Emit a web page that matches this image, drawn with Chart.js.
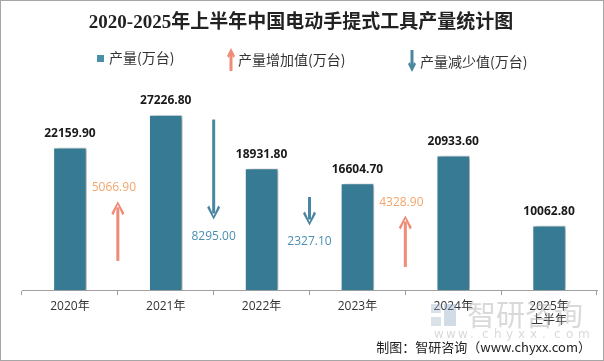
<!DOCTYPE html>
<html><head><meta charset="utf-8">
<script src="https://cdn.jsdelivr.net/npm/chart.js@4/dist/chart.umd.min.js"></script>
<style>
html,body{margin:0;padding:0;background:#fff;}
#wrap{position:relative;width:604px;height:361px;box-sizing:border-box;border:1px solid #a6a6a6;}
canvas{display:block;}
</style></head>
<body><div id="wrap"><canvas id="c" width="602" height="359"></canvas></div>
<script>
const categories = [["2020年"],["2021年"],["2022年"],["2023年"],["2024年"],["2025年","上半年"]];
const production = [22159.90, 27226.80, 18931.80, 16604.70, 20933.60, 10062.80];
// change annotations between consecutive years
const changeFromIndex = [0, 1, 2, 3];
const changeValues = [5066.90, 8295.00, 2327.10, 4328.90];
const changeDirection = ["up", "down", "down", "up"];
const arrowStartValues = [4550, 26500, 14470, 3610];
const arrowEndValues = [13800, 10990, 10050, 11610];
const labelValues = [15960, 8360, 7530, 13600];
const titleText = "2020-2025年上半年中国电动手提式工具产量统计图";
const legendLabels = ["产量(万台)", "产量增加值(万台)", "产量减少值(万台)"];

const BAR = "#367a93", UP = "#ef8b77", DOWN = "#4a86a0", UPTXT = "#f4a56a", DOWNTXT = "#4a8fb0";

function drawArrow(ctx, x, y1, y2, color, lw, hw, hl) {
  const dir = y2 < y1 ? -1 : 1;
  ctx.save();
  ctx.strokeStyle = color; ctx.fillStyle = color; ctx.lineWidth = lw;
  ctx.beginPath(); ctx.moveTo(x, y1); ctx.lineTo(x, y2 - dir * hl * 0.5); ctx.stroke();
  ctx.beginPath();
  ctx.moveTo(x, y2);
  ctx.lineTo(x - hw, y2 - dir * hl);
  ctx.lineTo(x - hw + 2, y2 - dir * (hl + 2));
  ctx.lineTo(x, y2 - dir * 3.5);
  ctx.lineTo(x + hw - 2, y2 - dir * (hl + 2));
  ctx.lineTo(x + hw, y2 - dir * hl);
  ctx.closePath(); ctx.fill();
  ctx.restore();
}

const decor = {
  id: 'decor',
  beforeDatasetDraw(chart) {
    const ctx = chart.ctx; ctx.save();
    ctx.shadowColor = 'rgba(0,0,0,0.35)'; ctx.shadowBlur = 4; ctx.shadowOffsetX = 3; ctx.shadowOffsetY = 1;
  },
  afterDatasetDraw(chart) { chart.ctx.restore(); },
  afterDraw(chart) {
    const ctx = chart.ctx, xs = chart.scales.x, ys = chart.scales.y;
    // title
    ctx.save();
    ctx.fillStyle = '#222'; ctx.textAlign = 'center'; ctx.textBaseline = 'middle';
    ctx.font = 'bold 19px "Liberation Serif", "Noto Sans CJK SC"';
    ctx.fillText(titleText, 300, 22);
    // legend
    ctx.font = '14px "Noto Sans CJK SC"'; ctx.textAlign = 'left';
    ctx.fillStyle = '#4a8fa8'; ctx.fillRect(96, 54, 7, 7);
    ctx.fillStyle = '#333'; ctx.fillText(legendLabels[0], 108, 57);
    drawArrow(ctx, 230, 70, 47, UP, 3, 4, 8);
    ctx.fillStyle = '#333'; ctx.fillText(legendLabels[1], 237, 59);
    drawArrow(ctx, 411, 49, 71, DOWN, 3, 4, 8);
    ctx.fillStyle = '#333'; ctx.fillText(legendLabels[2], 419, 61);
    ctx.restore();
    // bar value labels
    ctx.save();
    ctx.font = 'bold 12px "Open Sans", "DejaVu Sans"'; ctx.fillStyle = '#1a1a1a';
    ctx.textAlign = 'center'; ctx.textBaseline = 'middle';
    production.forEach((v, i) => {
      ctx.fillText(v.toFixed(2), xs.getPixelForValue(i), ys.getPixelForValue(v) - 14);
    });
    ctx.restore();
    // change arrows
    changeFromIndex.forEach((fi, k) => {
      const x = (xs.getPixelForValue(fi) + xs.getPixelForValue(fi + 1)) / 2;
      const up = changeDirection[k] === 'up';
      drawArrow(ctx, x, ys.getPixelForValue(arrowStartValues[k]), ys.getPixelForValue(arrowEndValues[k]), up ? UP : DOWN, 3, 6.5, 12);
      ctx.save();
      ctx.font = '12px "Open Sans", "DejaVu Sans"'; ctx.textAlign = 'center'; ctx.textBaseline = 'middle';
      ctx.fillStyle = up ? UPTXT : DOWNTXT;
      ctx.fillText(changeValues[k].toFixed(2), up ? x - 4 : x, ys.getPixelForValue(labelValues[k]));
      ctx.restore();
    });
    // watermark
    ctx.save();
    ctx.globalAlpha = 0.4;
    ctx.fillStyle = '#9fb3c8';
    ctx.fillRect(430, 303, 10, 9); ctx.fillRect(430, 316, 10, 9);
    ctx.fillStyle = '#8fa8c0';
    ctx.fillRect(443, 303, 12, 22);
    ctx.fillStyle = '#a0a0a0';
    ctx.font = '29px "Noto Sans CJK SC"'; ctx.textAlign = 'left'; ctx.textBaseline = 'middle';
    ctx.fillText('智研咨询', 466, 314);
    ctx.font = '12px "DejaVu Sans"';
    const url = 'www.chyxx.com'; let ux = 433;
    for (const ch of url) { ctx.fillText(ch, ux, 334); ux += 12; }
    ctx.restore();
    // source
    ctx.save();
    ctx.font = '13px "Noto Sans CJK SC"'; ctx.fillStyle = '#222';
    ctx.textAlign = 'right'; ctx.textBaseline = 'middle';
    ctx.fillText('制图：智研咨询（www.chyxx.com）', 590, 346);
    ctx.restore();
  }
};

new Chart(document.getElementById('c'), {
  type: 'bar',
  data: {
    labels: categories,
    datasets: [{
      data: production,
      backgroundColor: BAR,
      borderColor: '#ffffff',
      borderWidth: 1,
      barPercentage: 0.35,
      categoryPercentage: 1
    }]
  },
  options: {
    responsive: false,
    animation: false,
    devicePixelRatio: 1,
    layout: { padding: { left: 21, right: 6, top: 96, bottom: 28 } },
    plugins: { legend: { display: false }, title: { display: false }, tooltip: { enabled: false } },
    scales: {
      y: { display: false, min: 0, max: 30000 },
      x: {
        offset: true,
        grid: { offset: true, drawOnChartArea: false, drawTicks: true, tickLength: 5, color: '#a0a0a0' },
        border: { color: '#a0a0a0' },
        ticks: { color: '#333', font: { size: 12, family: '"Open Sans", "Noto Sans CJK SC"' }, padding: 4, maxRotation: 0 }
      }
    }
  },
  plugins: [decor]
});
</script>
</body></html>
